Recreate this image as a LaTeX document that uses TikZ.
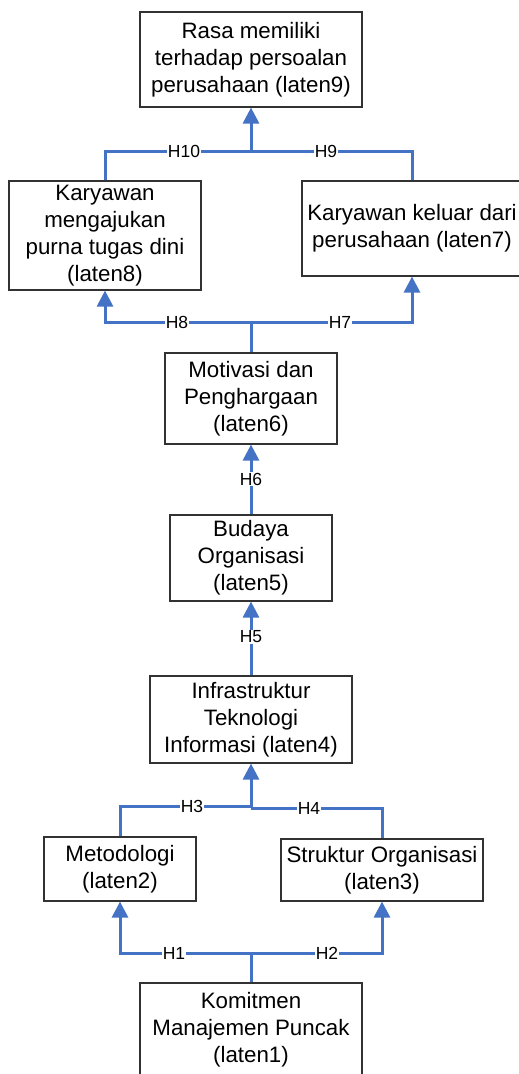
\documentclass[tikz,border=0pt]{standalone}
\usepackage{fontspec}
\setmainfont{Liberation Sans}
\usetikzlibrary{arrows.meta}
\definecolor{lineblue}{RGB}{68,114,196}
\definecolor{boxgray}{RGB}{50,50,50}
\begin{document}
\begin{tikzpicture}[x=1pt,y=-1pt,
 box/.style={draw=boxgray,line width=1.2pt,align=center,font=\fontsize{22.3}{27}\selectfont,inner sep=0pt,text=black},
 conn/.style={draw=lineblue,line width=3pt,line join=miter},
 arr/.style={-{Triangle[width=16pt,length=16pt]}},
 lbl/.style={fill=white,inner sep=1pt,font=\fontsize{17.5}{20}\selectfont}]
\useasboundingbox (0,0) rectangle (519,1074);
\clip (0,0) rectangle (519,1074);
\fill[white] (0,0) rectangle (519,1074);

\node[box,minimum width=222pt,minimum height=95pt] (r9) at (251,59.5) {Rasa memiliki\\terhadap persoalan\\perusahaan (laten9)};
\node[box,minimum width=192pt,minimum height=109pt] (k8) at (105,235.5) {Karyawan\\mengajukan\\purna tugas dini\\(laten8)};
\node[box,minimum width=220pt,minimum height=95pt] (k7) at (412,228.5) {Karyawan keluar dari\\perusahaan (laten7)};
\node[box,minimum width=172pt,minimum height=91pt] (m6) at (251,398.5) {Motivasi dan\\Penghargaan\\(laten6)};
\node[box,minimum width=162pt,minimum height=86pt] (b5) at (251,558) {Budaya\\Organisasi\\(laten5)};
\node[box,minimum width=202pt,minimum height=87pt] (i4) at (251,719.5) {Infrastruktur\\Teknologi\\Informasi (laten4)};
\node[box,minimum width=152pt,minimum height=64pt] (m2) at (120,869) {Metodologi\\(laten2)};
\node[box,minimum width=202pt,minimum height=62pt] (s3) at (382,870) {Struktur Organisasi\\(laten3)};
\node[box,minimum width=222pt,minimum height=94pt] (k1) at (251,1030) {Komitmen\\Manajemen Puncak\\(laten1)};

\coordinate (jtop) at (251,151);
\coordinate (jmid) at (251,322);
\coordinate (j3l) at (251,806);
\coordinate (j3r) at (251,808);
\coordinate (jb) at (251,953);

\draw[conn] (k8.north) |- (jtop) -| (k7.north);
\draw[conn,arr] (jtop) -- (r9.south);

\draw[conn] (m6.north) -- (jmid);
\draw[conn,arr] (jmid) -| (k8.south);
\draw[conn,arr] (jmid) -| (k7.south);

\draw[conn,arr] (b5.north) -- (m6.south);
\draw[conn,arr] (i4.north) -- (b5.south);

\draw[conn] (m2.north) |- (j3l);
\draw[conn] (s3.north) |- (j3r);
\draw[conn,arr] (j3r) -- (i4.south);

\draw[conn] (k1.north) -- (jb);
\draw[conn,arr] (jb) -| (m2.south);
\draw[conn,arr] (jb) -| (s3.south);

\node[lbl] (h10) at (184,151) {H10};
\node[lbl] (h9) at (326,151) {H9};
\node[lbl] (h8) at (177,322) {H8};
\node[lbl] (h7) at (340,322) {H7};
\node[lbl] (h6) at (251,479) {H6};
\node[lbl] (h5) at (251,637) {H5};
\node[lbl] (h3) at (192,806) {H3};
\node[lbl] (h4) at (309,808) {H4};
\node[lbl] (h1) at (174,953) {H1};
\node[lbl] (h2) at (327,953) {H2};
\end{tikzpicture}
\end{document}
